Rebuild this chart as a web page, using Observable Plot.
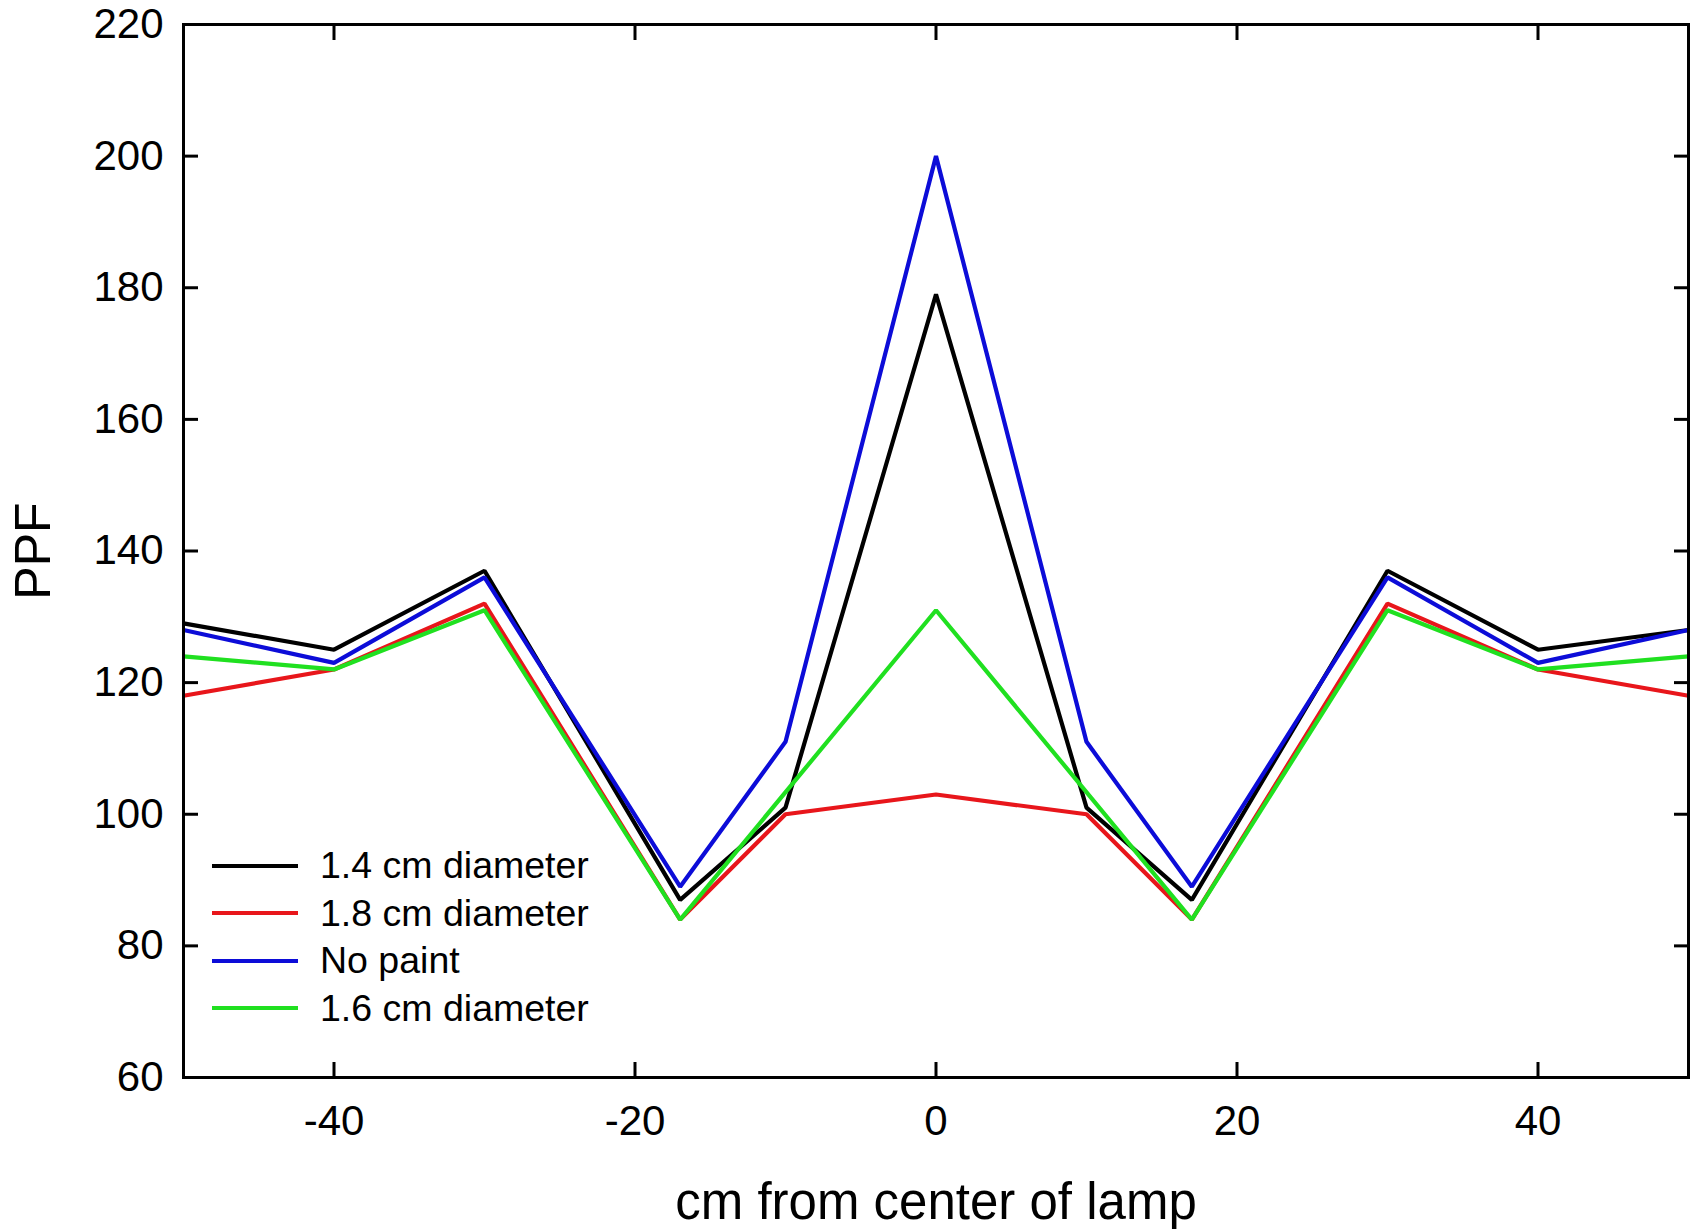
<!DOCTYPE html>
<html>
<head>
<meta charset="utf-8">
<script src="https://cdn.jsdelivr.net/npm/d3@7"></script>
<script src="https://cdn.jsdelivr.net/npm/@observablehq/plot@0.6"></script>
<style>
  html, body { margin: 0; padding: 0; background: #fff; }
  #wrap { position: relative; width: 1701px; height: 1229px; font-family: "Liberation Sans", Arial, sans-serif; }
  #legend { position: absolute; left: 212px; top: 842px; font-size: 37.5px; color: #000; }
  .item { display: flex; align-items: center; height: 47.5px; }
  .swatch { width: 86px; height: 4px; margin-right: 22px; }
</style>
</head>
<body>
<div id="wrap"></div>
<script>
// Data
const xPositions = [-50, -40, -30, -17, -10, 0, 10, 17, 30, 40, 50];
const seriesNames = ["1.4 cm diameter", "1.8 cm diameter", "No paint", "1.6 cm diameter"];
const seriesColors = ["#000000", "#e8161b", "#0c0cd8", "#20e020"];
const dia14 = [129, 125, 137, 87, 101, 179, 101, 87, 137, 125, 128];
const dia18 = [118, 122, 132, 84, 100, 103, 100, 84, 132, 122, 118];
const noPaint = [128, 123, 136, 89, 111, 200, 111, 89, 136, 123, 128];
const dia16 = [124, 122, 131, 84, null, 131, null, 84, 131, 122, 124];
const xTicks = [-40, -20, 0, 20, 40];
const yTicks = [60, 80, 100, 120, 140, 160, 180, 200, 220];

const allSeries = [dia14, dia18, noPaint, dia16];
const rows = [];
allSeries.forEach((vals, si) => {
  vals.forEach((v, i) => {
    if (v != null) rows.push({series: seriesNames[si], x: xPositions[i], y: v});
  });
});

const font = "'Liberation Sans', Arial, sans-serif";

const chart = Plot.plot({
  width: 1701,
  height: 1229,
  marginLeft: 183,
  marginRight: 13,
  marginTop: 24,
  marginBottom: 152,
  style: {fontFamily: font, background: "#fff", color: "#000", overflow: "visible"},
  x: {domain: [-50, 50]},
  y: {domain: [60, 220]},
  color: {domain: seriesNames, range: seriesColors},
  marks: [
    // inward ticks on all four sides
    Plot.axisX(xTicks, {anchor: "bottom", tickSize: -15, strokeWidth: 3, text: null, label: null}),
    Plot.axisX(xTicks, {anchor: "top", tickSize: -15, strokeWidth: 3, text: null, label: null}),
    Plot.axisY(yTicks, {anchor: "left", tickSize: -15, strokeWidth: 3, text: null, label: null}),
    Plot.axisY(yTicks, {anchor: "right", tickSize: -15, strokeWidth: 3, text: null, label: null}),
    // tick labels
    Plot.axisX(xTicks, {anchor: "bottom", tickSize: 0, tickPadding: 28, fontSize: 42, label: null, tickFormat: d => String(d).replace("−", "-")}),
    Plot.axisY(yTicks, {anchor: "left", tickSize: 0, tickPadding: 20, fontSize: 42, label: null}),
    // data lines
    Plot.line(rows, {x: "x", y: "y", z: "series", stroke: "series", strokeWidth: 4.2, strokeLinejoin: "miter", strokeLinecap: "butt"}),
    Plot.frame({stroke: "#000", strokeWidth: 3}),
    // axis titles
    Plot.text(["cm from center of lamp"], {frameAnchor: "bottom", dy: 141, lineAnchor: "bottom", textAnchor: "middle", fontSize: 51, fill: "#000", text: d => d}),
    Plot.text(["PPF"], {frameAnchor: "left", dx: -150, rotate: -90, textAnchor: "middle", fontSize: 50, fill: "#000", text: d => d})
  ]
});

const wrap = document.getElementById("wrap");
wrap.appendChild(chart);

const legend = document.createElement("div");
legend.id = "legend";
seriesNames.forEach((name, i) => {
  const item = document.createElement("div");
  item.className = "item";
  const sw = document.createElement("span");
  sw.className = "swatch";
  sw.style.background = seriesColors[i];
  const label = document.createElement("span");
  label.textContent = name;
  item.appendChild(sw);
  item.appendChild(label);
  legend.appendChild(item);
});
wrap.appendChild(legend);
</script>
</body>
</html>
